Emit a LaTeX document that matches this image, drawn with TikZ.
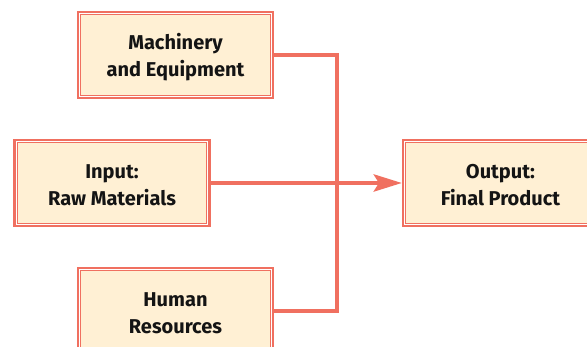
\documentclass[tikz,border=0pt]{standalone}
\usepackage{fontspec}
\setmainfont{Fira Sans}
\usetikzlibrary{arrows.meta}
\definecolor{boxred}{RGB}{240,112,96}
\definecolor{boxfill}{RGB}{255,240,212}
\definecolor{txt}{RGB}{20,20,20}
\tikzset{
  x=1pt,y=1pt,
  dbox/.style={draw=boxred, line width=2.2pt, fill=white, minimum width=195pt, minimum height=86pt, inner sep=0pt},
  innerbox/.style={draw=boxred, line width=1pt, fill=boxfill},
  lbl/.style={font=\fontsize{20}{27}\selectfont\bfseries, text=txt, align=center},
  conn/.style={draw=boxred, line width=4.6pt},
}
\begin{document}
\begin{tikzpicture}
\useasboundingbox (0,0) rectangle (587,347);
\begin{scope}
\clip (0,0) rectangle (587,347);
\node[dbox] (m) at (175.5,292) {};
\node[dbox] (i) at (112,164) {};
\node[dbox] (h) at (175.5,36) {};
\node[dbox] (o) at (500.5,164) {};
\foreach \n in {m,i,h,o}
  \draw[innerbox] ([shift={(4pt,4pt)}]\n.south west) rectangle ([shift={(-4pt,-4pt)}]\n.north east);
\node[lbl] (mt) at ([yshift=-2.5pt]m.center) {Machinery\\and Equipment};
\node[lbl] (it) at ([yshift=-2.5pt]i.center) {Input:\\Raw Materials};
\node[lbl] (ht) at ([yshift=-2.5pt]h.center) {Human\\Resources};
\node[lbl] (ot) at ([yshift=-2.5pt]o.center) {Output:\\Final Product};
\coordinate (j) at (337,0);
\draw[conn] (m.east) -| (j |- h.east) -- (h.east);
\draw[conn, -{Stealth[length=28pt,width=17pt,inset=5pt]}] (i.east) -- (o.west);
\end{scope}
\end{tikzpicture}
\end{document}
